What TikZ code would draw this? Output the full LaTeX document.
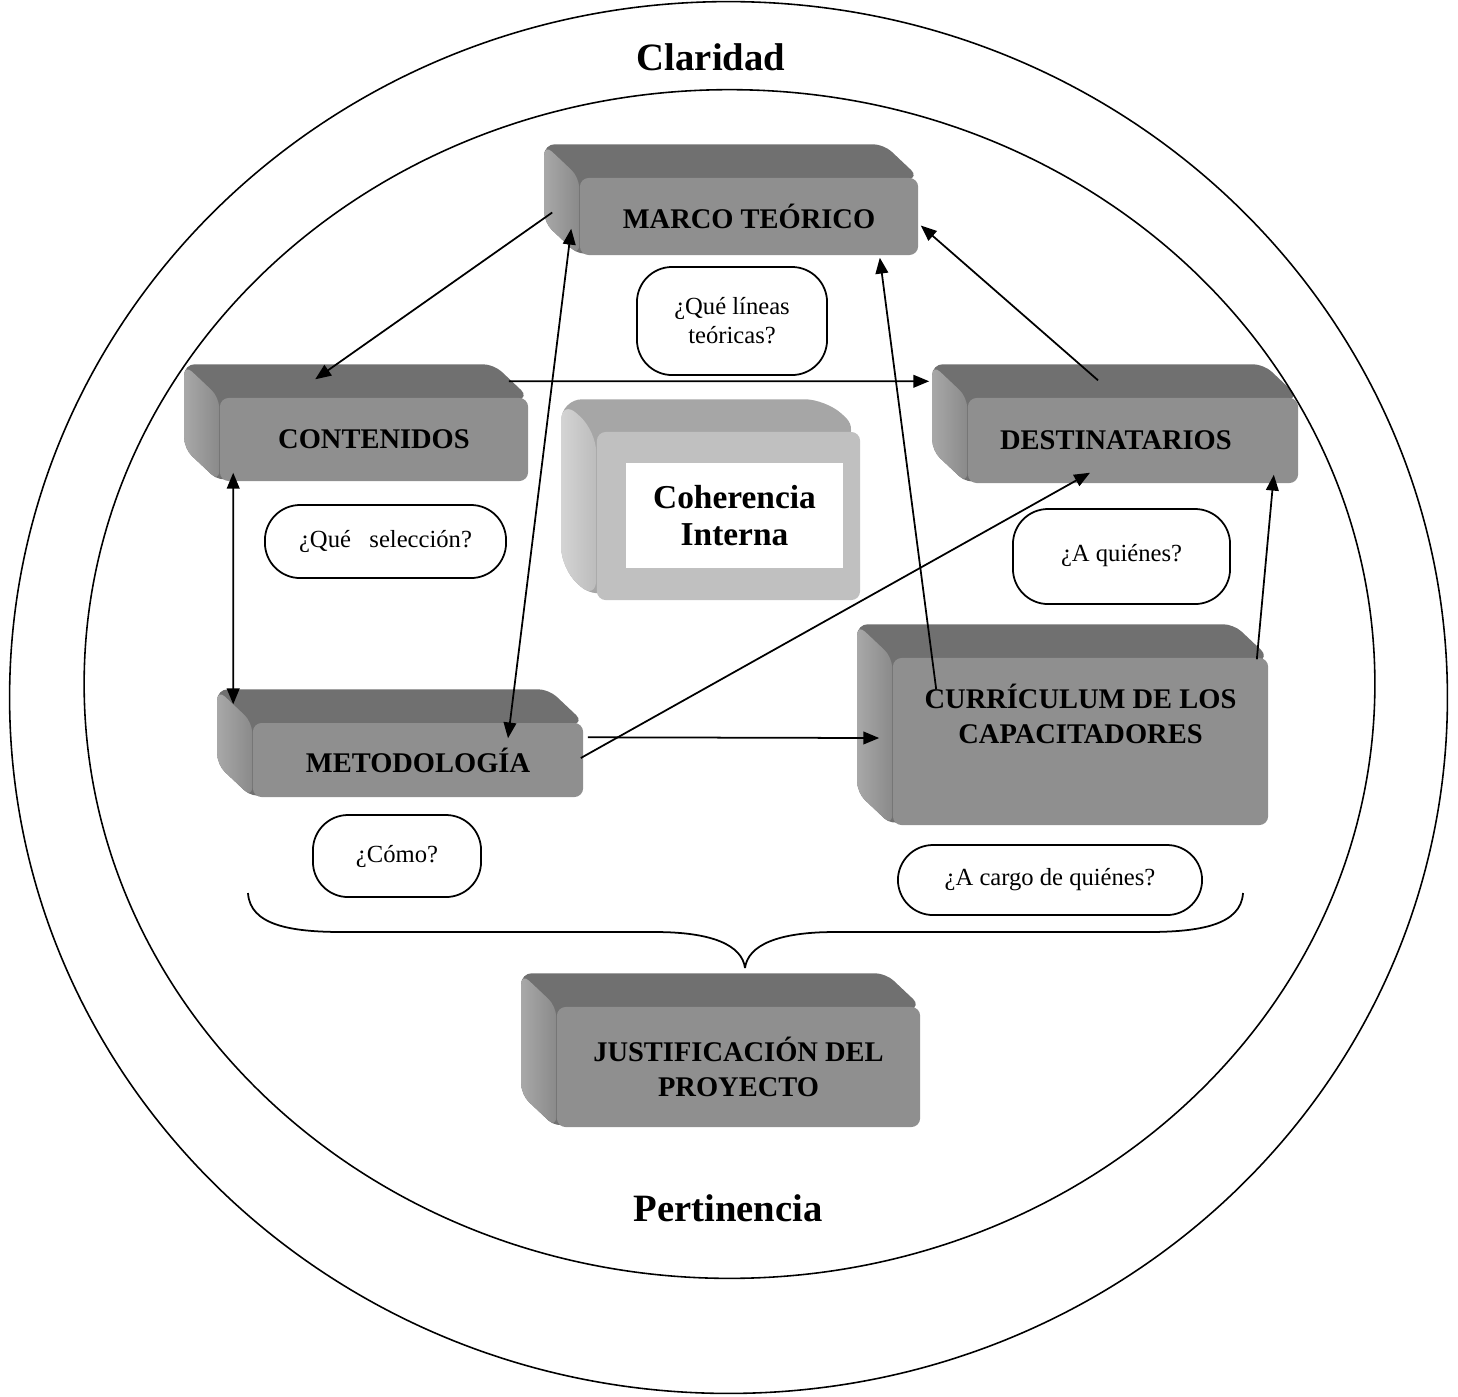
\documentclass[tikz,border=0pt]{standalone}
\usepackage{fontspec}
\setmainfont{Liberation Serif}
\usepackage{xcolor}
\usepackage{tikz}
\usetikzlibrary{calc,arrows.meta,backgrounds}

\definecolor{boxfront}{RGB}{143,143,143}
\definecolor{boxtop}{RGB}{112,112,112}
\definecolor{boxsidel}{RGB}{168,168,168}
\definecolor{boxsider}{RGB}{138,138,138}
\definecolor{cohfront}{RGB}{192,192,192}
\definecolor{cohtop}{RGB}{166,166,166}
\definecolor{cohsidel}{RGB}{212,212,212}
\definecolor{cohsider}{RGB}{188,188,188}

\begin{document}
\begin{tikzpicture}[x=0.01cm, y=-0.01cm,
  box/.style={fill=boxfront, rounded corners=2.5pt, inner sep=0pt, align=center,
    font=\bfseries\fontsize{8.1}{10}\selectfont},
  ask/.style={draw, line width=0.5pt, fill=white, rounded corners=10pt, inner sep=0pt,
    align=center, font=\fontsize{7}{8.3}\selectfont},
  link/.style={line width=0.5pt, -{Triangle[length=4.5pt,width=3.6pt]}},
  twolink/.style={line width=0.5pt, {Triangle[length=4.5pt,width=3.6pt]}-{Triangle[length=4.5pt,width=3.6pt]}},
  ring/.style={line width=0.45pt},
  title/.style={font=\bfseries\fontsize{11}{13}\selectfont}]
  \useasboundingbox (0,0) rectangle (1458,1396);

  % Outer and inner rings
  \draw[ring] (728.5,697.5) ellipse [x radius=7.185cm, y radius=6.955cm];
  \draw[ring] (729.5,684) ellipse [x radius=6.45cm, y radius=5.94cm];
  \node[title] (claridad) at (711,57) {Claridad};
  \node[title] (pertinencia) at (728,1208) {Pertinencia};

  % Blocks (front faces)
  \node[box, minimum width=3.38cm, minimum height=0.77cm] (marco) at (749,216.5) {MARCO TEÓRICO};
  \node[box, minimum width=3.08cm, minimum height=0.83cm] (cont) at (374,439.5) {CONTENIDOS};
  \node[box, minimum width=3.30cm, minimum height=0.85cm] (dest) at (1133,440.5) {DESTINATARIOS\hspace{1.2em}};
  \node[box, minimum width=3.30cm, minimum height=0.74cm] (met) at (418,760) {METODOLOGÍA};
  \node[box, minimum width=3.75cm, minimum height=1.67cm] (cur) at (1080.5,741.5) {CURRÍCULUM DE LOS\\CAPACITADORES\\[3pt]\strut};
  \node[box, minimum width=3.63cm, minimum height=1.20cm] (just) at (738.5,1067) {JUSTIFICACIÓN DEL\\PROYECTO};
  \node[box, fill=cohfront, minimum width=2.63cm, minimum height=1.68cm] (coh) at (728.5,516) {};
  \node[fill=white, minimum width=2.17cm, minimum height=1.05cm, inner sep=0pt, align=center,
    font=\bfseries\fontsize{9.5}{10.5}\selectfont] (cohtext) at (734.5,515.5) {Coherencia\\Interna};

  % Bevelled back of the blocks
  \begin{scope}[on background layer]
    \foreach \n in {marco,cont,dest,met,cur,just} {
      \fill[boxtop, rounded corners=3pt] ($(\n.north west)+(-35,-33)$) -- ($(\n.north east)+(-35,-33)$)
        -- (\n.north east) -- (\n.south west) -- ($(\n.south west)+(-35,-33)$) -- cycle;
      \shade[left color=boxsidel, right color=boxsider, rounded corners=3pt] ($(\n.north west)+(-35,-33)$)
        -- ($(\n.north west)+(0,0)$) -- (\n.south west) -- ($(\n.south west)+(-35,-33)$) -- cycle;
    }
    \fill[cohtop, rounded corners=6pt] ($(coh.north west)+(-35,-32)$) -- ($(coh.north east)+(-35,-32)$)
      -- (coh.north east) -- (coh.south west) -- ($(coh.south west)+(-35,-32)$) -- cycle;
    \shade[left color=cohsidel, right color=cohsider, rounded corners=6pt] ($(coh.north west)+(-35,-32)$)
      -- (coh.north west) -- (coh.south west) -- ($(coh.south west)+(-35,-32)$) -- cycle;
  \end{scope}

  % Questions
  \node[ask, minimum width=1.90cm, minimum height=1.08cm] (q1) at (732,321) {¿Qué líneas\\teóricas?};
  \node[ask, minimum width=2.41cm, minimum height=0.73cm] (q2) at (385.5,541.5) {¿Qué\ \ \ selección?};
  \node[ask, minimum width=2.17cm, minimum height=0.95cm] (q3) at (1121.5,556.5) {\raisebox{2pt}{¿A quiénes?}};
  \node[ask, minimum width=1.68cm, minimum height=0.82cm] (q4) at (397,856) {¿Cómo?};
  \node[ask, minimum width=3.04cm, minimum height=0.70cm] (q5) at (1050,880) {¿A cargo de quiénes?};

  % Connections
  \draw[link] ($(marco.west)+(-27,-4)$) -- ($(cont.north west)+(96,-18)$);
  \draw[twolink] ($(marco.south west)+(-8,-27)$) -- ($(met.north)+(90,16)$);
  \draw[link] ($(cont.north east)+(-20,-16)$) -- ($(dest.north west)+(-38,-16)$);
  \draw[link] ($(dest.north)+(-35,-17)$) -- ($(marco.east)+(2,9)$);
  \draw[link] ($(cur.north west)+(44,32)$) -- ($(marco.south east)+(-39,2)$);
  \draw[twolink] ($(cont.south west)+(14,-9)$) -- ($(met.north west)+(-19,-18)$);
  \draw[link] ($(met.east)+(-3,-2)$) -- ($(dest.south)+(-43,-11)$);
  \draw[link] ($(met.north east)+(4,15)$) -- ($(cur.west)+(-13,-3.5)$);
  \draw[link] ($(cur.north east)+(-12,2)$) -- ($(dest.south east)+(-25,-9)$);

  % Brace towards the justification
  \coordinate (braceL) at (248,893);
  \coordinate (braceR) at (1243,893);
  \coordinate (braceTip) at (745,968);
  \draw[line width=0.5pt] (braceL) .. controls (250,925) and (290,932) .. (343,932) -- (655,932)
    .. controls (712,932) and (742,945) .. (braceTip);
  \draw[line width=0.5pt] (braceR) .. controls (1241,925) and (1200,932) .. (1147,932) -- (835,932)
    .. controls (778,932) and (748,945) .. (braceTip);
\end{tikzpicture}
\end{document}
